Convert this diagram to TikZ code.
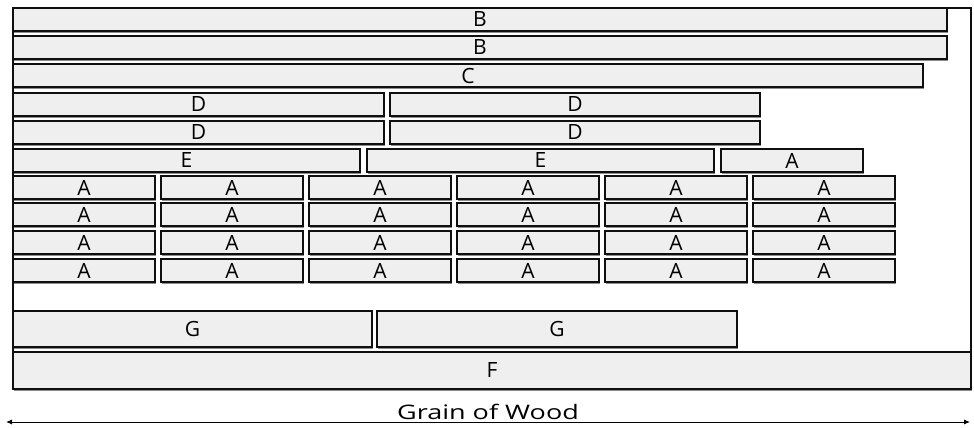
\documentclass[tikz,border=0pt]{standalone}
\usepackage{fontspec}
\setmainfont{Open Sans}
\newfontfamily\grainfont[FakeStretch=1.35]{Open Sans}
\usetikzlibrary{arrows.meta,positioning,shadows}
\definecolor{plankfill}{RGB}{239,239,239}
\definecolor{plankedge}{RGB}{15,15,15}
\definecolor{plankshade}{RGB}{140,140,140}
\tikzset{
  plank/.style={draw=plankedge,fill=plankfill,line width=2.8pt,
                rectangle,anchor=north west,outer sep=0pt,inner sep=0pt,
                font=\fontsize{21}{23}\selectfont,text=black,
                drop shadow={shadow xshift=0.8pt,shadow yshift=-2.2pt,
                fill=plankshade,opacity=1}},
  frame/.style={draw=plankedge,line width=2.8pt},
  grain/.style={{Latex[length=6pt,width=5pt]}-{Latex[length=6pt,width=5pt]},
                line width=0.9pt},
  lbl/.style={font=\grainfont\fontsize{20}{22}\selectfont,text=black,
              inner sep=1.5pt},
}

\begin{document}
\begin{tikzpicture}[x=1pt,y=-1pt]
  \useasboundingbox (0,0) rectangle (974,428);
  \draw[frame] (13,8) rectangle (971,389);

  \node[plank,minimum width=934pt,minimum height=23pt](B1) at (13,8)  {B};
  \node[plank,minimum width=934pt,minimum height=23pt](B2) at (13,36) {B};
  \node[plank,minimum width=910pt,minimum height=23pt](C)  at (13,64) {C};
  \node[plank,minimum width=371pt,minimum height=23pt](D1) at (13,93) {D};
  \node[plank,minimum width=370pt,minimum height=23pt](D2) at (390,93) {D};
  \node[plank,minimum width=371pt,minimum height=23pt](D3) at (13,121) {D};
  \node[plank,minimum width=370pt,minimum height=23pt](D4) at (390,121) {D};
  \node[plank,minimum width=347pt,minimum height=23pt](E1) at (13,149) {E};
  \node[plank,minimum width=347pt,minimum height=23pt](E2) at (367,149) {E};
  \node[plank,minimum width=142pt,minimum height=23pt](EA) at (721,149) {A};

  \foreach \r/\y in {0/176,1/203,2/231,3/259}
    \foreach \c in {0,...,5}
      \node[plank,minimum width=142pt,minimum height=23pt](A\r\c)
        at ({13+148*\c},\y) {A};

  \node[plank,minimum width=359pt,minimum height=36pt](G1) at (13,311)  {G};
  \node[plank,minimum width=360pt,minimum height=36pt](G2) at (377,311) {G};
  \node[plank,minimum width=958pt,minimum height=37pt](F)  at (13,352)  {F};

  \coordinate (grainL) at (6,422);
  \coordinate (grainR) at (970,422);
  \draw[grain](grainL) -- node[lbl,above]{Grain of Wood} (grainR);
\end{tikzpicture}
\end{document}
